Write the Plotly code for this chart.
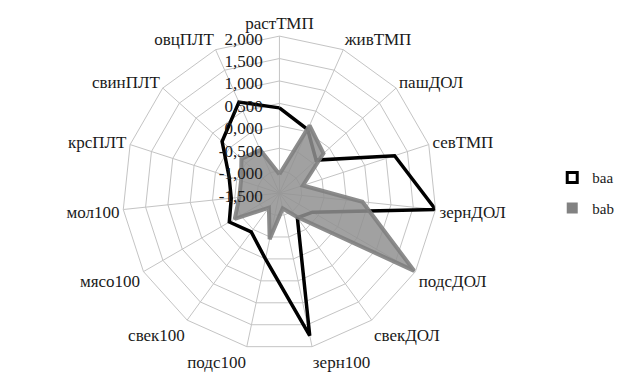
import plotly.graph_objects as go

categories = ['растТМП', 'живТМП', 'пашДОЛ', 'севТМП', 'зернДОЛ', 'подсДОЛ', 'свекДОЛ',
              'зерн100', 'подс100', 'свек100', 'мясо100', 'мол100', 'крсПЛТ', 'свинПЛТ', 'овцПЛТ']
baa = [0.40, 0.05, -0.40, 1.20, 2.00, -0.65, -0.82, 1.75, 0.00, -0.43, -0.21, -0.42, -0.32, 0.22, 0.72]
bab = [-1.08, 0.15, -0.18, -0.95, 0.36, 1.97, -0.85, -1.15, -0.45, -1.10, -0.35, -0.60, -0.60, -0.36, -0.45]
tick_vals = [-1.5, -1.0, -0.5, 0.0, 0.5, 1.0, 1.5, 2.0]
tick_text = [f"{v:.3f}".replace('.', ',') + '\u00a0' for v in tick_vals]

def closed(v):
    return list(v) + [v[0]]

theta_c = closed(categories)
FONT = "Liberation Serif, Times New Roman, serif"

fig = go.Figure()
fig.add_trace(go.Scatterpolar(r=closed(baa), theta=theta_c, mode='lines', name='baa',
                              line=dict(color='black', width=3.5), showlegend=False))
fig.add_trace(go.Scatterpolar(r=closed(bab), theta=theta_c, mode='lines', name='bab',
                              line=dict(color='rgba(128,128,128,0.9)', width=4),
                              fill='toself', fillcolor='rgba(145,145,145,0.85)', showlegend=False))
# legend entries
fig.add_trace(go.Scatterpolar(r=[None], theta=[None], mode='markers', name='baa', legendgroup='a',
                              marker=dict(symbol='square-open', size=10, color='black',
                                          line=dict(width=3, color='black'))))
fig.add_trace(go.Scatterpolar(r=[None], theta=[None], mode='markers', name='bab', legendgroup='b',
                              marker=dict(symbol='square', size=11, color='rgb(130,130,130)')))

fig.update_layout(
    width=627, height=383,
    margin=dict(l=0, r=0, t=0, b=0),
    paper_bgcolor='white', plot_bgcolor='white',
    font=dict(family=FONT, size=17, color='#1a1a1a'),
    polar=dict(
        domain=dict(x=[0.1825, 0.6833], y=[0.1068, 0.9266]),
        gridshape='linear',
        bgcolor='white',
        radialaxis=dict(range=[-1.5, 2.0], tickvals=tick_vals, ticktext=tick_text,
                        angle=90, side='counterclockwise', showline=False, ticks='',
                        gridcolor='#c4c4c4', gridwidth=1, layer='above traces',
                        tickfont=dict(family=FONT, size=17, color='#1a1a1a')),
        angularaxis=dict(direction='clockwise', rotation=90, showline=True,
                         linecolor='#c4c4c4', linewidth=1,
                         gridcolor='#c4c4c4', gridwidth=1, ticks='',
                         tickfont=dict(family=FONT, size=17, color='#1a1a1a')),
    ),
    legend=dict(x=0.868, y=0.60, xanchor='left', yanchor='top', tracegroupgap=8,
                font=dict(family=FONT, size=15, color='#1a1a1a'), itemwidth=30),
    showlegend=True,
)

fig.write_html("out.html")
